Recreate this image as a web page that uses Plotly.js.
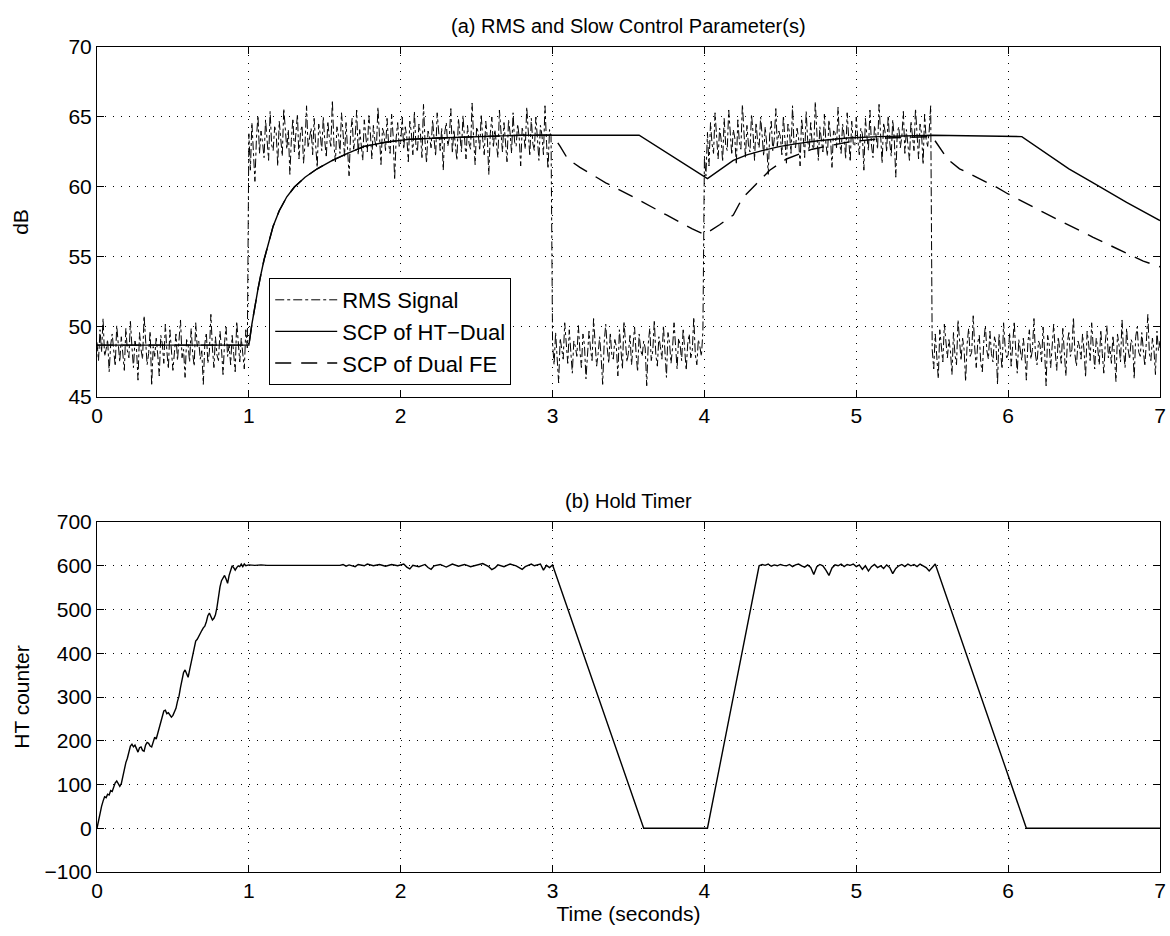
<!DOCTYPE html>
<html>
<head>
<meta charset="utf-8">
<script src="https://cdn.plot.ly/plotly-3.0.1.min.js"></script>
<style>html,body{margin:0;padding:0;background:#fff;}#chart{width:1170px;height:936px;}</style>
</head>
<body>
<div id="chart"></div>
<script>
// ---- Data ----
// RMS signal, sampled every 0.01 s starting at t = 0
const rmsSamplePeriod = 0.01;
const rmsLowA = [
48.9,47.6,49.8,48.2,50.6,47.9,48.4,49.1,46.8,48.7,
49.5,48.0,47.2,50.1,48.8,47.5,49.3,48.1,46.9,49.9,
48.3,47.8,50.4,48.6,47.1,49.0,48.5,46.2,49.6,48.4,
47.7,50.8,48.9,47.3,48.1,49.7,45.8,48.6,47.9,49.2,
48.0,46.5,49.4,48.8,47.4,50.2,48.3,47.0,49.8,48.5,
46.9,48.2,49.5,47.6,48.9,50.5,47.8,48.4,46.4,49.1,
48.7,47.5,49.9,48.1,47.2,50.3,48.6,49.0,47.7,48.3,
45.9,48.8,49.6,47.4,48.2,50.9,48.5,47.1,49.3,48.0,
47.6,49.7,48.4,46.6,48.9,50.0,47.9,48.7,47.3,49.4,
48.1,46.8,50.4,48.6,47.5,49.2,48.3,47.0,49.8,48.5];
const rmsHighA = [
63.8,61.2,64.6,62.9,60.4,63.5,65.1,62.4,64.0,63.2,
62.1,64.8,63.6,61.9,65.4,63.0,62.6,64.3,63.9,61.5,
64.7,63.3,62.2,65.6,63.8,62.7,64.1,60.9,63.4,64.9,
62.5,63.7,65.2,62.0,63.9,64.4,61.7,63.1,65.8,62.8,
63.6,64.2,62.3,64.9,63.0,61.4,64.5,63.8,62.6,65.0,
63.3,62.1,64.7,63.5,62.9,66.2,63.1,61.8,64.3,63.7,
62.4,65.3,63.9,62.2,64.6,63.0,60.8,63.8,64.9,62.7,
63.5,65.5,62.3,64.1,63.2,61.9,64.8,63.6,62.5,65.1,
63.9,62.0,64.4,63.3,62.8,65.7,63.4,61.6,64.2,63.8,
62.6,64.9,63.1,62.4,65.2,63.7,60.5,63.5,64.6,62.9,
63.2,65.0,62.7,64.3,63.6,61.8,64.7,63.9,62.3,65.4,
63.0,62.5,64.5,63.8,62.1,65.9,63.3,61.7,64.0,63.6,
62.8,64.8,63.4,62.2,65.3,63.7,62.6,64.2,61.2,63.9,
64.6,62.9,63.5,65.6,62.4,64.1,63.2,61.9,64.9,63.7,
62.5,65.1,63.8,62.0,64.4,63.1,62.7,66.0,63.5,61.6,
64.3,63.9,62.6,65.2,63.4,62.3,64.7,63.6,60.9,63.8,
65.0,62.8,64.1,63.3,62.1,65.5,63.7,62.5,64.6,63.0,
61.8,64.8,63.9,62.4,65.3,63.2,62.9,64.5,63.6,61.5,
64.2,63.8,62.7,65.7,63.4,62.2,64.9,63.1,62.6,65.0,
63.5,61.9,64.4,63.7,62.3,65.8,63.2,61.3,64.1,63.6];
const rmsLowB = [
48.8,47.3,49.6,48.1,46.0,49.2,48.5,47.7,50.3,48.9,
47.4,49.8,48.2,46.7,49.0,48.6,47.9,50.1,48.3,47.1,
49.5,48.7,46.3,48.0,49.7,48.4,47.6,50.6,48.8,47.2,
48.1,49.3,47.8,45.9,48.9,50.2,48.5,47.4,49.6,48.0,
47.7,49.1,48.6,46.5,49.8,48.3,47.0,50.4,48.7,47.5,
48.2,49.4,47.3,48.9,50.0,48.1,46.8,49.5,48.4,47.9,
49.0,48.5,45.8,48.8,49.9,47.6,48.3,50.5,48.0,47.2,
49.3,48.6,47.7,50.1,48.2,46.4,49.6,48.9,47.4,48.5,
50.3,48.1,47.0,49.2,48.7,47.6,49.9,48.4,46.9,48.8,
49.5,47.8,48.3,50.7,48.0,47.3,49.1,48.6,47.9,49.7];
const rmsHighB = [
62.2,60.8,63.9,61.5,64.6,63.1,62.4,65.3,63.7,62.0,
64.2,63.4,61.8,64.9,63.0,62.6,65.5,63.8,62.3,64.1,
63.5,61.6,64.8,63.2,62.7,65.9,63.6,62.1,64.4,63.0,
62.5,65.2,63.9,61.9,64.6,63.3,62.8,65.0,63.7,62.2,
64.3,63.1,60.9,63.8,64.7,62.6,63.4,65.6,62.9,64.0,
63.6,62.3,65.1,63.2,61.7,64.5,63.9,62.4,65.8,63.0,
62.8,64.2,63.5,61.5,64.9,63.7,62.1,65.4,63.3,62.6,
64.6,63.0,62.7,66.1,63.8,61.9,64.3,63.4,62.5,65.2,
63.1,62.2,64.8,63.6,61.4,64.0,63.9,62.8,65.7,63.2,
62.4,64.5,63.7,62.0,65.3,63.5,61.8,64.7,63.1,62.9,
65.0,63.4,62.3,64.2,63.8,61.2,64.9,63.6,62.6,65.5,
63.0,62.1,64.4,63.7,62.7,65.9,63.3,61.7,64.6,63.9,
62.5,65.1,63.2,62.2,64.8,63.5,60.7,63.9,64.3,62.8,
63.6,65.4,62.4,64.1,63.0,61.9,64.7,63.7,62.6,65.6,
63.3,62.0,64.5,63.8,61.6,65.2,63.4,62.9,64.0,65.8];
const rmsLowC = [
48.4,47.0,49.5,48.1,46.3,49.8,48.6,47.5,50.2,48.9,
47.8,49.1,48.3,46.6,49.6,48.0,47.3,50.5,48.7,47.6,
49.2,48.4,46.1,48.8,49.9,47.9,48.2,50.8,48.5,47.1,
48.9,49.4,47.4,46.8,49.0,50.1,48.3,47.7,49.7,48.1,
47.5,49.3,48.8,45.9,49.5,48.2,47.0,50.3,48.6,47.8,
48.0,49.6,47.2,48.7,50.4,48.3,46.7,49.1,48.5,47.6,
49.2,48.1,46.2,48.9,49.8,47.7,48.4,50.6,48.0,47.3,
49.0,48.7,47.5,50.0,48.3,45.8,49.4,48.8,47.1,48.6,
50.2,48.2,46.9,49.3,48.5,47.4,49.9,48.1,46.5,48.9,
49.6,47.9,48.4,50.7,48.0,47.2,49.0,48.6,47.7,49.5,
48.3,46.4,49.7,48.8,47.6,50.3,48.2,47.0,49.2,48.5,
47.3,49.8,48.1,46.7,48.9,50.1,47.8,48.6,47.4,49.4,
48.0,46.1,49.5,48.7,47.5,50.5,48.3,47.1,49.9,48.4,
47.7,49.1,48.8,46.3,49.3,50.0,48.2,47.9,49.6,48.5,
47.2,48.9,50.9,48.1,47.6,49.2,48.4,46.6,49.7,48.3,
49.0];

// Slow control parameter of HT-Dual (solid)
const scpHtTime = [0,1.00,1.02,1.04,1.06,1.08,1.10,1.13,1.16,1.20,1.25,1.30,1.37,1.45,1.55,1.65,1.76,1.90,2.05,2.25,2.50,2.80,3.00,3.57,4.02,4.10,4.19,4.28,4.38,4.50,4.61,4.75,4.94,5.15,5.50,6.09,6.25,6.40,6.56,6.78,7.00];
const scpHtDb   = [48.7,48.7,50.2,51.6,52.7,53.8,54.8,56.0,57.2,58.3,59.3,60.0,60.7,61.3,61.9,62.4,62.9,63.2,63.4,63.5,63.6,63.7,63.7,63.7,60.6,61.2,61.9,62.3,62.6,62.9,63.1,63.3,63.5,63.6,63.7,63.6,62.4,61.3,60.3,58.9,57.6];

// Slow control parameter of Dual FE (dashed)
const scpFeTime = [0,1.00,1.02,1.04,1.06,1.08,1.10,1.13,1.16,1.20,1.25,1.30,1.37,1.45,1.55,1.65,1.76,1.90,2.05,2.25,2.50,2.80,3.00,3.05,3.10,3.18,3.35,3.53,3.75,3.92,4.00,4.03,4.10,4.19,4.25,4.34,4.43,4.54,4.71,4.94,5.20,5.50,5.55,5.60,5.68,5.92,6.00,6.23,6.56,6.89,7.00];
const scpFeDb   = [48.7,48.7,50.2,51.6,52.7,53.8,54.8,56.0,57.2,58.3,59.3,60.0,60.7,61.3,61.9,62.4,62.9,63.2,63.4,63.5,63.6,63.7,63.7,62.9,62.0,61.4,60.3,59.3,58.0,57.0,56.6,56.8,57.3,58.0,59.2,60.2,61.2,62.0,62.7,63.2,63.5,63.6,62.8,62.0,61.3,60.0,59.5,58.2,56.4,54.7,54.3];

// Hold timer counter
const htTime = [0,0.01,0.02,0.03,0.04,0.05,0.06,0.07,0.08,0.09,0.10,0.11,0.12,0.13,0.14,0.15,0.16,0.17,0.18,0.19,0.20,0.21,0.22,0.23,0.24,0.25,0.26,0.27,0.28,0.29,0.30,0.31,0.32,0.33,0.34,0.35,0.36,0.37,0.38,0.39,0.40,0.41,0.42,0.43,0.44,0.45,0.46,0.47,0.48,0.49,0.50,0.51,0.52,0.53,0.54,0.55,0.56,0.57,0.58,0.59,0.60,0.61,0.62,0.63,0.64,0.65,0.66,0.67,0.68,0.69,0.70,0.71,0.72,0.73,0.74,0.75,0.76,0.77,0.78,0.79,0.80,0.81,0.82,0.83,0.84,0.85,0.86,0.87,0.88,0.89,0.90,0.91,0.92,0.93,0.94,0.95,0.96,0.97,0.98,
1.00,1.04,1.08,1.12,1.16,1.20,1.24,1.28,1.32,1.36,1.40,1.44,1.48,1.52,1.56,1.60,1.62,1.64,1.66,1.70,1.72,1.76,1.78,1.82,1.86,1.90,1.94,1.98,2.02,2.04,2.06,2.08,2.12,2.16,2.18,2.20,2.22,2.26,2.30,2.34,2.38,2.42,2.46,2.50,2.54,2.58,2.60,2.62,2.64,2.68,2.72,2.76,2.78,2.80,2.82,2.86,2.88,2.92,2.94,2.96,2.98,3.00,
3.60,4.02,4.36,
4.38,4.40,4.42,4.44,4.46,4.48,4.50,4.52,4.54,4.56,4.58,4.60,4.62,4.64,4.66,4.68,4.70,4.72,4.74,4.76,4.78,4.80,4.82,4.84,4.86,4.88,4.90,4.92,4.94,4.96,4.98,5.00,5.02,5.04,5.06,5.08,5.10,5.12,5.14,5.16,5.18,5.20,5.22,5.24,5.26,5.28,5.30,5.32,5.34,5.36,5.38,5.40,5.42,5.44,5.46,5.48,5.50,5.52,
6.12,7.00];
const htCount = [0,18,32,50,62,72,70,78,76,86,84,96,104,108,100,96,102,118,140,150,160,172,188,192,186,190,182,174,184,186,178,176,190,196,194,188,186,200,208,204,218,232,246,258,268,270,262,264,258,254,258,266,274,290,302,322,342,356,362,352,345,362,380,400,418,428,432,440,448,452,458,462,472,486,492,482,476,480,488,505,530,552,566,574,578,570,560,578,592,600,596,590,596,600,598,604,598,604,600,
602,601,602,601,601,602,601,601,601,602,601,601,602,601,601,601,603,599,602,598,603,600,604,600,603,599,603,600,604,597,593,601,598,603,596,592,600,603,597,604,599,603,598,602,605,598,591,595,602,598,604,600,595,592,598,604,600,604,590,601,596,602,
0,0,600,
603,601,604,599,602,600,603,601,600,603,598,602,604,600,597,602,596,580,598,603,600,590,578,595,602,600,604,598,603,601,604,598,602,592,600,588,598,603,596,600,594,602,596,582,594,600,603,598,604,600,603,598,604,600,596,588,597,604,
0,0];

const xTicks = [0,1,2,3,4,5,6,7];

// ---- Build traces ----
const rmsDb = [].concat(rmsLowA, rmsHighA, rmsLowB, rmsHighB, rmsLowC);
const rmsTime = rmsDb.map((_, i) => +(i * rmsSamplePeriod).toFixed(2));

const FONT = 'Liberation Sans, Arial, Helvetica, sans-serif';

const traces = [
  {x: rmsTime, y: rmsDb, type: 'scatter', mode: 'lines', name: 'RMS Signal',
   line: {color: '#000', width: 1, dash: 'dashdot'}, xaxis: 'x', yaxis: 'y'},
  {x: scpHtTime, y: scpHtDb, type: 'scatter', mode: 'lines', name: 'SCP of HT\u2212Dual',
   line: {color: '#000', width: 1.4}, xaxis: 'x', yaxis: 'y'},
  {x: scpFeTime, y: scpFeDb, type: 'scatter', mode: 'lines', name: 'SCP of Dual FE',
   line: {color: '#000', width: 1.4, dash: '16px,10px'}, xaxis: 'x', yaxis: 'y'},
  {x: htTime, y: htCount, type: 'scatter', mode: 'lines', name: 'HT counter', showlegend: false,
   line: {color: '#000', width: 1.4}, xaxis: 'x2', yaxis: 'y2'}
];

const axBase = {
  showline: true, mirror: 'ticks', linecolor: '#000', linewidth: 1,
  ticks: 'inside', ticklen: 7, tickcolor: '#000', tickwidth: 1,
  showgrid: true, gridcolor: '#000', gridwidth: 1, griddash: '1px,7px',
  zeroline: false, tickfont: {family: FONT, size: 21, color: '#000'}
};

const layout = {
  width: 1170, height: 936,
  margin: {l: 97, r: 10, t: 47, b: 64},
  paper_bgcolor: '#fff', plot_bgcolor: '#fff',
  font: {family: FONT, color: '#000'},
  showlegend: true,
  legend: {x: 0.162, y: 0.72, xanchor: 'left', yanchor: 'top',
           bgcolor: '#fff', bordercolor: '#000', borderwidth: 1,
           font: {family: FONT, size: 22, color: '#000'}, itemwidth: 62},
  xaxis: Object.assign({}, axBase, {domain: [0, 1], range: [0, 7], tickvals: xTicks, anchor: 'y'}),
  yaxis: Object.assign({}, axBase, {domain: [0.5758, 1], range: [45, 70], dtick: 5, tick0: 45, anchor: 'x',
          title: {text: 'dB', font: {family: FONT, size: 21}, standoff: 34}}),
  xaxis2: Object.assign({}, axBase, {domain: [0, 1], range: [0, 7], tickvals: xTicks, anchor: 'y2',
          title: {text: 'Time (seconds)', font: {family: FONT, size: 21}, standoff: 2}}),
  yaxis2: Object.assign({}, axBase, {domain: [0, 0.4242], range: [-100, 700], dtick: 100, tick0: -100, anchor: 'x2',
          title: {text: 'HT counter', font: {family: FONT, size: 21}, standoff: 9}}),
  annotations: [
    {text: '(a) RMS and Slow Control Parameter(s)', xref: 'paper', yref: 'paper', x: 0.5, y: 1,
     yshift: 8, xanchor: 'center', yanchor: 'bottom', showarrow: false, font: {family: FONT, size: 20}},
    {text: '(b) Hold Timer', xref: 'paper', yref: 'paper', x: 0.5, y: 0.4242,
     yshift: 8, xanchor: 'center', yanchor: 'bottom', showarrow: false, font: {family: FONT, size: 20}}
  ]
};

Plotly.newPlot('chart', traces, layout, {staticPlot: true, displayModeBar: false});
</script>
</body>
</html>
